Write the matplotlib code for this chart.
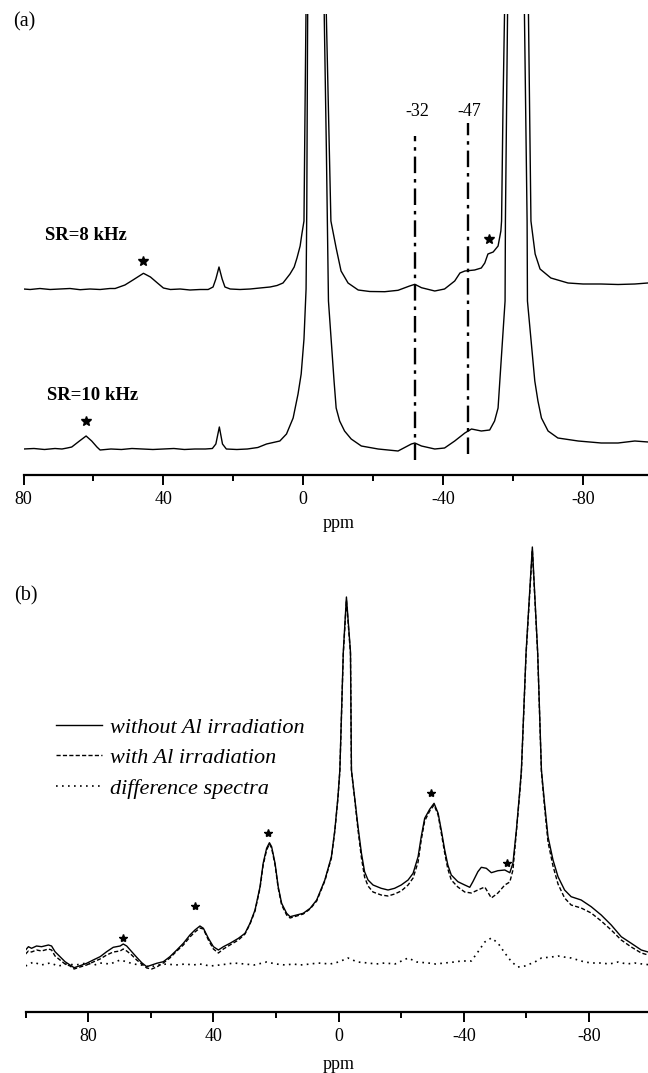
import matplotlib
matplotlib.use("Agg")
import matplotlib.pyplot as plt
from matplotlib.ticker import MultipleLocator

plt.rcParams['font.family'] = ['Liberation Serif', 'DejaVu Serif']
plt.rcParams['axes.unicode_minus'] = False

# ---- panel (a): two spinning rates, (ppm, intensity above own baseline) ----
sr8 = [(80, 0), (78.1, -0.5), (75.3, 0.5), (72.4, -0.5), (69.6, 0), (66.7, 0.5),
       (63.8, -0.7), (61.0, 0), (58.1, -0.5), (55.3, 0.5), (53.8, 0.5), (51.0, 4),
       (48.7, 9), (45.7, 15.7), (43.7, 12), (41.7, 6), (40.0, 1), (38.0, -0.5),
       (35.2, 0), (32.4, -1), (29.5, -0.5), (27.2, -0.5), (25.8, 2), (25.0, 10),
       (24.1, 22), (23.2, 10), (22.4, 2), (20.9, 0), (18.1, -0.5), (15.2, 0),
       (12.4, 1), (9.5, 2), (7.5, 3.5), (5.8, 6), (3.8, 15), (2.6, 22), (1.8, 31),
       (0.9, 43), (0.4, 55), (-0.2, 68), (-0.5, 180), (-0.9, 320), (-3.6, 2000),
       (-6.3, 320), (-7.9, 68), (-9.4, 41), (-10.8, 18), (-12.8, 6), (-15.7, -1),
       (-19.0, -2.5), (-23.3, -2.7), (-27.1, -1.3), (-30.4, 3), (-31.9, 4.7),
       (-33.8, 1.3), (-37.6, -2), (-40.4, 0), (-43.3, 8), (-44.8, 16), (-46.2, 18),
       (-49.0, 19), (-50.9, 21), (-51.9, 26), (-52.8, 35), (-54.3, 37), (-55.7, 43),
       (-56.5, 58), (-56.7, 68), (-57.1, 180), (-57.8, 330), (-61.0, 2000),
       (-64.2, 330), (-65.1, 68), (-66.3, 35), (-67.7, 20), (-70.8, 11), (-75.7, 6),
       (-80.0, 5), (-85.1, 5), (-90.0, 4.5), (-94.8, 5), (-98.5, 6), (-100, 6)]

sr10 = [(80, 0), (77, 0.5), (74, -0.5), (71, 0.5), (69, 0), (67.5, 1), (66.2, 2),
        (64, 8), (62.1, 13), (60.5, 8), (59, 2), (58.1, -1), (55, 0), (52, -0.5),
        (49, 0.5), (46, 0), (43, -0.5), (40, 0), (37, 0.5), (34, -0.5), (31, 0),
        (28, 0), (26, 0.5), (25.0, 5), (24.0, 22), (23.1, 5), (22, 0), (19, -0.5),
        (16, 0), (13, 1.5), (10.5, 5), (6.7, 8), (4.8, 15), (2.9, 31), (1.5, 55),
        (0.6, 75), (-0.2, 110), (-0.8, 160), (-1.0, 240), (-1.2, 400), (-1.4, 520),
        (-3.6, 3000), (-5.6, 520),
        (-6.6, 300), (-7.2, 148), (-8.8, 68), (-9.4, 41), (-10.4, 28), (-11.8, 18),
        (-13.7, 10), (-16.6, 3), (-21.4, 0), (-27.1, -2), (-30.9, 5), (-31.9, 6),
        (-33.8, 3), (-37.6, 0), (-40.4, 1), (-43.3, 8), (-46.2, 16), (-48.1, 20),
        (-50.9, 18), (-53.3, 19), (-54.7, 28), (-55.7, 41), (-56.2, 68), (-57.7, 148),
        (-57.8, 228), (-58.6, 500), (-61.0, 3000), (-63.0, 500), (-64.0, 228),
        (-64.1, 148), (-66.2, 68), (-67.1, 48), (-68.1, 31), (-70.0, 18), (-72.8, 11),
        (-78.6, 8), (-85.2, 6), (-90.0, 6), (-94.8, 8), (-98.6, 7), (-100, 7)]

sr8_offset = 186
sr10_offset = 26
sr8_stars = [(45.7, 28), (-53.2, 50)]
sr10_stars = [(62.1, 28)]

guide_ppm = [-32, -47]
guide_lo = [15, 21]
guide_hi = [339, 352]

# ---- panel (b): with / without Al irradiation ----
without_al = [(100, 62), (99.1, 65.3), (98.1, 63.7), (96.5, 66), (94.9, 65.3), (92.7, 67),
              (91.7, 66), (90.6, 60.3), (89.0, 55.3), (87.4, 50.3), (85.8, 47), (84.5, 44.3),
              (82.6, 46.3), (80.5, 48.7), (78.4, 52), (76.2, 55.3), (74.1, 60.3), (72.0, 64.7),
              (69.8, 66), (68.8, 68), (67.7, 66), (66.1, 60.3), (64.5, 54.7), (62.9, 49.3),
              (61.3, 45.3), (59.7, 47), (58.1, 48.7), (56.0, 50.3), (53.9, 55.3), (51.7, 62),
              (49.6, 68.7), (47.5, 77), (45.9, 82), (44.3, 86), (43.2, 83.7), (41.6, 73.7),
              (40.0, 65.3), (38.4, 62), (36.8, 65.3), (34.7, 68.7), (32.0, 73.7), (29.9, 78.7),
              (28.3, 88.7), (26.7, 102), (25.1, 125.3), (24.1, 148.7), (23.0, 163.7),
              (22.1, 169.3), (21.4, 165.3), (20.3, 148.7), (19.3, 125.3), (18.2, 108.7),
              (16.6, 98.7), (15.5, 95.3), (13.4, 97), (11.3, 98.7), (9.1, 103.7), (7.0, 112),
              (4.4, 132), (2.3, 155.3), (1.2, 182), (0.2, 215.3), (-0.4, 242), (-1.5, 360),
              (-2.5, 415), (-3.8, 360), (-4.1, 242), (-5.1, 215.3), (-6.2, 185.3),
              (-7.3, 158.7), (-8.3, 140.3), (-9.4, 132), (-11.0, 127), (-13.6, 123.7),
              (-15.8, 122), (-17.9, 123.7), (-20.0, 127), (-22.2, 132), (-23.8, 138.7),
              (-25.4, 155.3), (-26.4, 175.3), (-27.5, 193.7), (-29.1, 202.7), (-30.5, 208.7),
              (-31.8, 198.7), (-32.8, 182), (-33.9, 162), (-34.9, 147), (-36.0, 137),
              (-38.1, 130.3), (-40.3, 127), (-41.9, 124.7), (-42.9, 130.3), (-44.5, 140.3),
              (-45.6, 144.7), (-47.2, 143.7), (-48.8, 139.3), (-50.9, 141.3), (-53.1, 142),
              (-54.7, 139.3), (-55.7, 148.7), (-56.8, 182), (-57.9, 222), (-58.4, 242),
              (-59.9, 360), (-61.9, 465), (-63.6, 360), (-64.8, 242), (-65.8, 208.7),
              (-66.9, 175.3), (-68.5, 152), (-70.1, 135.3), (-72.2, 122), (-74.3, 115.3),
              (-77.5, 112), (-80.7, 105.3), (-83.9, 97), (-87.1, 87), (-90.3, 75.3),
              (-93.5, 68.7), (-96.7, 62), (-100, 59)]

with_al = [(100, 58), (99.1, 61), (98.1, 60), (96.5, 62), (94.9, 61), (92.7, 63), (91.7, 62),
           (90.6, 56), (89.0, 52), (87.4, 48), (85.8, 46), (84.5, 43), (82.6, 45), (80.5, 47),
           (78.4, 50), (76.2, 53), (74.1, 57), (72.0, 60), (69.8, 61), (68.8, 63), (67.7, 61),
           (66.1, 57), (64.5, 52), (62.9, 48), (61.3, 44), (59.7, 43), (58.1, 45), (56.0, 49),
           (53.9, 54), (51.7, 61), (49.6, 67), (47.5, 75), (45.9, 80), (44.3, 84), (43.2, 83),
           (41.6, 72), (40.0, 63), (38.4, 59), (36.8, 63), (34.7, 67), (32.0, 72), (29.9, 78),
           (28.3, 88), (26.7, 101), (25.1, 124), (24.1, 147), (23.0, 162), (22.1, 168),
           (21.4, 164), (20.3, 147), (19.3, 124), (18.2, 107), (16.6, 97), (15.5, 94),
           (13.4, 96), (11.3, 98), (9.1, 103), (7.0, 111), (4.4, 131), (2.3, 154), (1.2, 181),
           (0.2, 214), (-0.4, 241), (-1.5, 358), (-2.5, 412), (-3.8, 358), (-4.1, 241),
           (-5.1, 214), (-6.2, 182), (-7.3, 154), (-8.3, 135), (-9.4, 126), (-11.0, 120),
           (-13.6, 117), (-15.8, 116), (-17.9, 118), (-20.0, 121), (-22.2, 127), (-23.8, 134),
           (-25.4, 150), (-26.4, 172), (-27.5, 191), (-29.1, 201), (-30.5, 207), (-31.8, 197),
           (-32.8, 179), (-33.9, 159), (-34.9, 143), (-36.0, 132), (-38.1, 125), (-40.3, 120),
           (-42.4, 119), (-44.5, 122), (-46.7, 125), (-48.8, 114), (-50.9, 119), (-53.1, 127),
           (-54.7, 130), (-55.7, 142), (-56.8, 180), (-57.9, 220), (-58.4, 240), (-59.9, 358),
           (-61.9, 462), (-63.6, 358), (-64.8, 240), (-65.8, 205), (-66.9, 170), (-68.5, 146),
           (-70.1, 128), (-72.2, 114), (-74.3, 107), (-77.5, 104), (-80.7, 99), (-83.9, 91),
           (-87.1, 82), (-90.3, 72), (-93.5, 65), (-96.7, 59), (-100, 56)]

difference = [(100, 46), (97.5, 50), (95, 47), (92.2, 49), (89.5, 46), (86.9, 48), (84, 47),
              (80.5, 49), (78, 47), (76.2, 49), (73, 48), (69.8, 52), (67.5, 50), (65.6, 48),
              (63, 47), (60.3, 45), (57.5, 47), (55, 48), (52, 47), (49, 48), (46.5, 47),
              (44.3, 48), (41, 46), (38, 47), (35.5, 48), (33.6, 49), (30, 48), (27, 47),
              (23.0, 50), (20, 48), (17, 47), (14.5, 48), (12.3, 47), (9, 48), (6.6, 49),
              (2.7, 48), (0, 50), (-3.0, 54), (-6, 50), (-9.4, 49), (-12, 48), (-14.7, 49),
              (-18, 48), (-22.2, 54), (-25, 50), (-28.6, 49), (-31, 48), (-33.9, 49), (-37, 50),
              (-39.2, 51), (-42.4, 51), (-44.5, 60), (-46.7, 70), (-48.8, 74), (-50.9, 69),
              (-53.1, 59), (-55.3, 50), (-57.3, 45), (-59.5, 46), (-62.7, 50), (-64.8, 54),
              (-68.0, 55), (-70.1, 56), (-72, 55), (-74.3, 54), (-78.6, 50), (-81, 49),
              (-83.9, 49), (-86.5, 48), (-89.3, 50), (-92, 48), (-94.6, 49), (-97, 48), (-100, 47)]

b_stars = [(68.8, 74), (45.9, 106), (22.7, 179), (-29.6, 219), (-53.8, 149)]

legend_labels = ['without Al irradiation', 'with Al irradiation', 'difference spectra']

W, H = 648, 1073
fig = plt.figure(figsize=(W / 100, H / 100), dpi=100)


def px_axes(left, right, top, bottom):
    return fig.add_axes([left / W, 1 - bottom / H, (right - left) / W, (bottom - top) / H])


def style(ax, xlim, ylim, labelpad):
    ax.set_xlim(*xlim)
    ax.set_ylim(*ylim)
    for s in ['left', 'right', 'top']:
        ax.spines[s].set_visible(False)
    ax.spines['bottom'].set_linewidth(1.6)
    ax.set_yticks([])
    ax.xaxis.set_major_locator(MultipleLocator(40))
    ax.xaxis.set_minor_locator(MultipleLocator(20))
    ax.tick_params(axis='x', which='major', direction='out', length=7, width=1.4,
                   labelsize=13, pad=4.5)
    ax.tick_params(axis='x', which='minor', direction='out', length=4, width=1.4)
    ax.set_xlabel('ppm', fontsize=13, labelpad=labelpad)
    ax.patch.set_visible(False)


def xy(points, offset=0):
    return [p[0] for p in points], [p[1] + offset for p in points]


# panel (a)
ax_a = px_axes(23.5, 653, 14, 475)
style(ax_a, (80, -100), (0, 461), 5)
ax_a.plot(*xy(sr8, sr8_offset), color='black', lw=1.0)
ax_a.plot(*xy(sr10, sr10_offset), color='black', lw=1.0)
ax_a.plot(*xy(sr8_stars, sr8_offset), ls='none', marker='*', ms=7, color='black')
ax_a.plot(*xy(sr10_stars, sr10_offset), ls='none', marker='*', ms=7, color='black')
ax_a.vlines(guide_ppm, guide_lo, guide_hi, colors='black', lw=1.7,
            linestyles=[(0, (7, 2.5, 1.5, 2.5))])
for g in guide_ppm:
    ax_a.text(g - 0.6, 363, str(g), ha='center', va='center', fontsize=13)
ax_a.text(73.9, sr8_offset + 53, 'SR=8 kHz', fontsize=13.5, fontweight='bold',
          ha='left', va='center')
ax_a.text(73.4, sr10_offset + 53, 'SR=10 kHz', fontsize=13.5, fontweight='bold',
          ha='left', va='center')

# panel (b)
ax_b = px_axes(25.6, 651.6, 540, 1012)
style(ax_b, (100, -100), (0, 472), 8)
l1, = ax_b.plot(*xy(without_al), color='black', lw=1.0)
l2, = ax_b.plot(*xy(with_al), color='black', lw=1.0, ls=(0, (3, 1.6)))
l3, = ax_b.plot(*xy(difference), color='black', lw=1.2, ls=(0, (1, 2.6)))
ax_b.plot(*xy(b_stars), ls='none', marker='*', ms=6, color='black')
ax_b.legend([l1, l2, l3], legend_labels, loc='upper left',
            bbox_to_anchor=(55.8 / W, 1 - 717 / H), bbox_transform=fig.transFigure,
            frameon=False, borderpad=0, borderaxespad=0, handlelength=2.1,
            handletextpad=0.36, labelspacing=0.45,
            prop={'style': 'italic', 'size': 16})

fig.text(24 / W, 1 - 22 / H, '(a)', fontsize=14.5, ha='center', va='center')
fig.text(26 / W, 1 - 596 / H, '(b)', fontsize=14.5, ha='center', va='center')

fig.savefig('out.png', dpi=100)
